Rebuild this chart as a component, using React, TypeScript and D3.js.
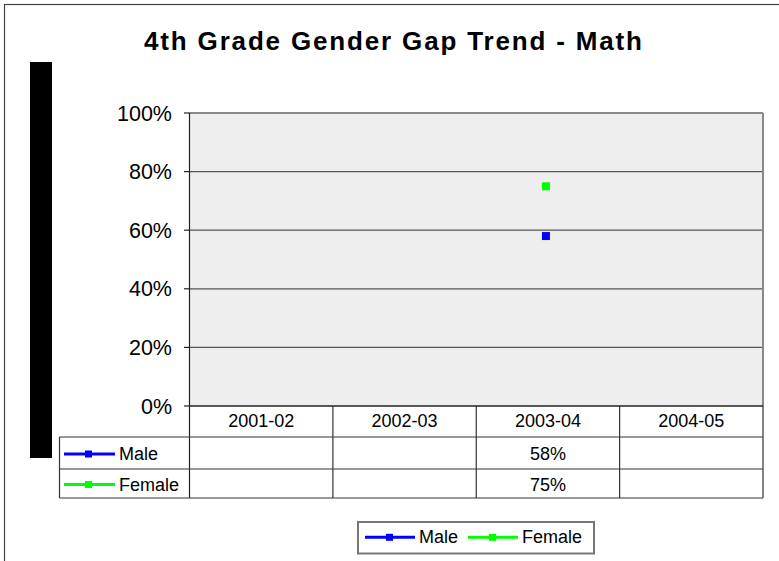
import React from "react";
import * as d3 from "d3";

const categories = ["2001-02", "2002-03", "2003-04", "2004-05"];
const maleValues: (number | null)[] = [null, null, 0.58, null];
const femaleValues: (number | null)[] = [null, null, 0.75, null];
const yTicks = [0, 0.2, 0.4, 0.6, 0.8, 1.0];
const seriesNames = ["Male", "Female"];
const seriesColors = ["#0000ff", "#00ff00"];
const title = "4th Grade Gender Gap Trend - Math";

const FONT = "'Liberation Sans', Arial, Helvetica, sans-serif";

export default function App() {
  const W = 779;
  const H = 561;
  const left = 189.5;
  const right = 763;
  const top = 113;
  const bottom = 406;
  const tableLeft = 59.5;
  const rowH = [437, 469, 498];

  const x = d3.scaleBand<string>().domain(categories).range([left, right]);
  const y = d3.scaleLinear().domain([0, 1]).range([bottom, top]);
  const fmt = d3.format(".0%");
  const series = [maleValues, femaleValues];

  return (
    <svg
      width={W}
      height={H}
      style={{ position: "absolute", left: 0, top: 0, background: "#fff" }}
      fontFamily={FONT}
    >
      {/* outer chart border */}
      <rect x={4.5} y={4.5} width={W + 10} height={H + 10} fill="#fff" stroke="#444" strokeWidth={1.2} />

      {/* title */}
      <text x={144} y={50} fontSize={26} fontWeight="bold" textLength={498} lengthAdjust="spacing" fill="#000">
        {title}
      </text>

      {/* black bar (axis title artifact) */}
      <rect x={30} y={62} width={22} height={396} fill="#000" />

      {/* plot area */}
      <rect x={left} y={top} width={right - left} height={bottom - top} fill="#eeeeee" />
      {yTicks.filter((t) => t > 0).map((t) => (
        <line key={t} x1={left} x2={right} y1={y(t)} y2={y(t)} stroke="#555" strokeWidth={1.3} />
      ))}
      {/* top border & right border */}
      <line x1={left} x2={right} y1={top} y2={top} stroke="#888" strokeWidth={2} />
      <line x1={right} x2={right} y1={top} y2={bottom} stroke="#888" strokeWidth={2} />

      {/* y axis */}
      <line x1={left} x2={left} y1={top} y2={rowH[2]} stroke="#222" strokeWidth={1.2} />
      {yTicks.map((t) => (
        <g key={t}>
          <line x1={left - 5.5} x2={left} y1={y(t)} y2={y(t)} stroke="#222" strokeWidth={1.2} />
          <text x={172} y={y(t) + 7.6} fontSize={21.5} textAnchor="end" fill="#000">
            {fmt(t)}
          </text>
        </g>
      ))}

      {/* data table */}
      <line x1={left} x2={right} y1={bottom} y2={bottom} stroke="#222" strokeWidth={1.5} />
      {rowH.map((ry) => (
        <line key={ry} x1={tableLeft} x2={right} y1={ry} y2={ry} stroke="#333" strokeWidth={1.2} />
      ))}
      <line x1={tableLeft} x2={tableLeft} y1={rowH[0]} y2={rowH[2]} stroke="#333" strokeWidth={1.2} />
      <line x1={right} x2={right} y1={bottom} y2={rowH[2]} stroke="#333" strokeWidth={1.2} />
      {categories.slice(1).map((c) => (
        <line key={c} x1={x(c)!} x2={x(c)!} y1={bottom} y2={rowH[2]} stroke="#333" strokeWidth={1.2} />
      ))}
      {categories.map((c) => (
        <text key={c} x={x(c)! + x.bandwidth() / 2} y={426.5} fontSize={18} textAnchor="middle" fill="#000">
          {c}
        </text>
      ))}
      {seriesNames.map((name, i) => {
        const ry0 = i === 0 ? rowH[0] : rowH[1];
        const ry1 = i === 0 ? rowH[1] : rowH[2];
        const cy = (ry0 + ry1) / 2 + 1;
        return (
          <g key={name}>
            <line x1={64} x2={115} y1={cy} y2={cy} stroke={seriesColors[i]} strokeWidth={3} />
            <rect x={85} y={cy - 3.5} width={7} height={7} fill={seriesColors[i]} />
            <text x={119} y={cy + 6} fontSize={18} fill="#000">
              {name}
            </text>
            {series[i].map((v, j) =>
              v == null ? null : (
                <text
                  key={j}
                  x={x(categories[j])! + x.bandwidth() / 2}
                  y={cy + 6}
                  fontSize={18}
                  textAnchor="middle"
                  fill="#000"
                >
                  {fmt(v)}
                </text>
              )
            )}
          </g>
        );
      })}

      {/* data markers */}
      {series.map((vals, i) =>
        vals.map((v, j) =>
          v == null ? null : (
            <rect
              key={`${i}-${j}`}
              x={x(categories[j])! + x.bandwidth() / 2 - 6}
              y={y(v) - 4}
              width={8}
              height={8}
              fill={seriesColors[i]}
            />
          )
        )
      )}

      {/* legend */}
      <rect x={358} y={522} width={236} height={31.5} fill="#fff" stroke="#777" strokeWidth={2} />
      {seriesNames.map((name, i) => {
        const x0 = i === 0 ? 365 : 468;
        return (
          <g key={name}>
            <line x1={x0} x2={x0 + 50} y1={537.3} y2={537.3} stroke={seriesColors[i]} strokeWidth={3} />
            <rect x={x0 + 21} y={533.8} width={7} height={7} fill={seriesColors[i]} />
            <text x={x0 + 54} y={543} fontSize={18} fill="#000">
              {name}
            </text>
          </g>
        );
      })}
    </svg>
  );
}
